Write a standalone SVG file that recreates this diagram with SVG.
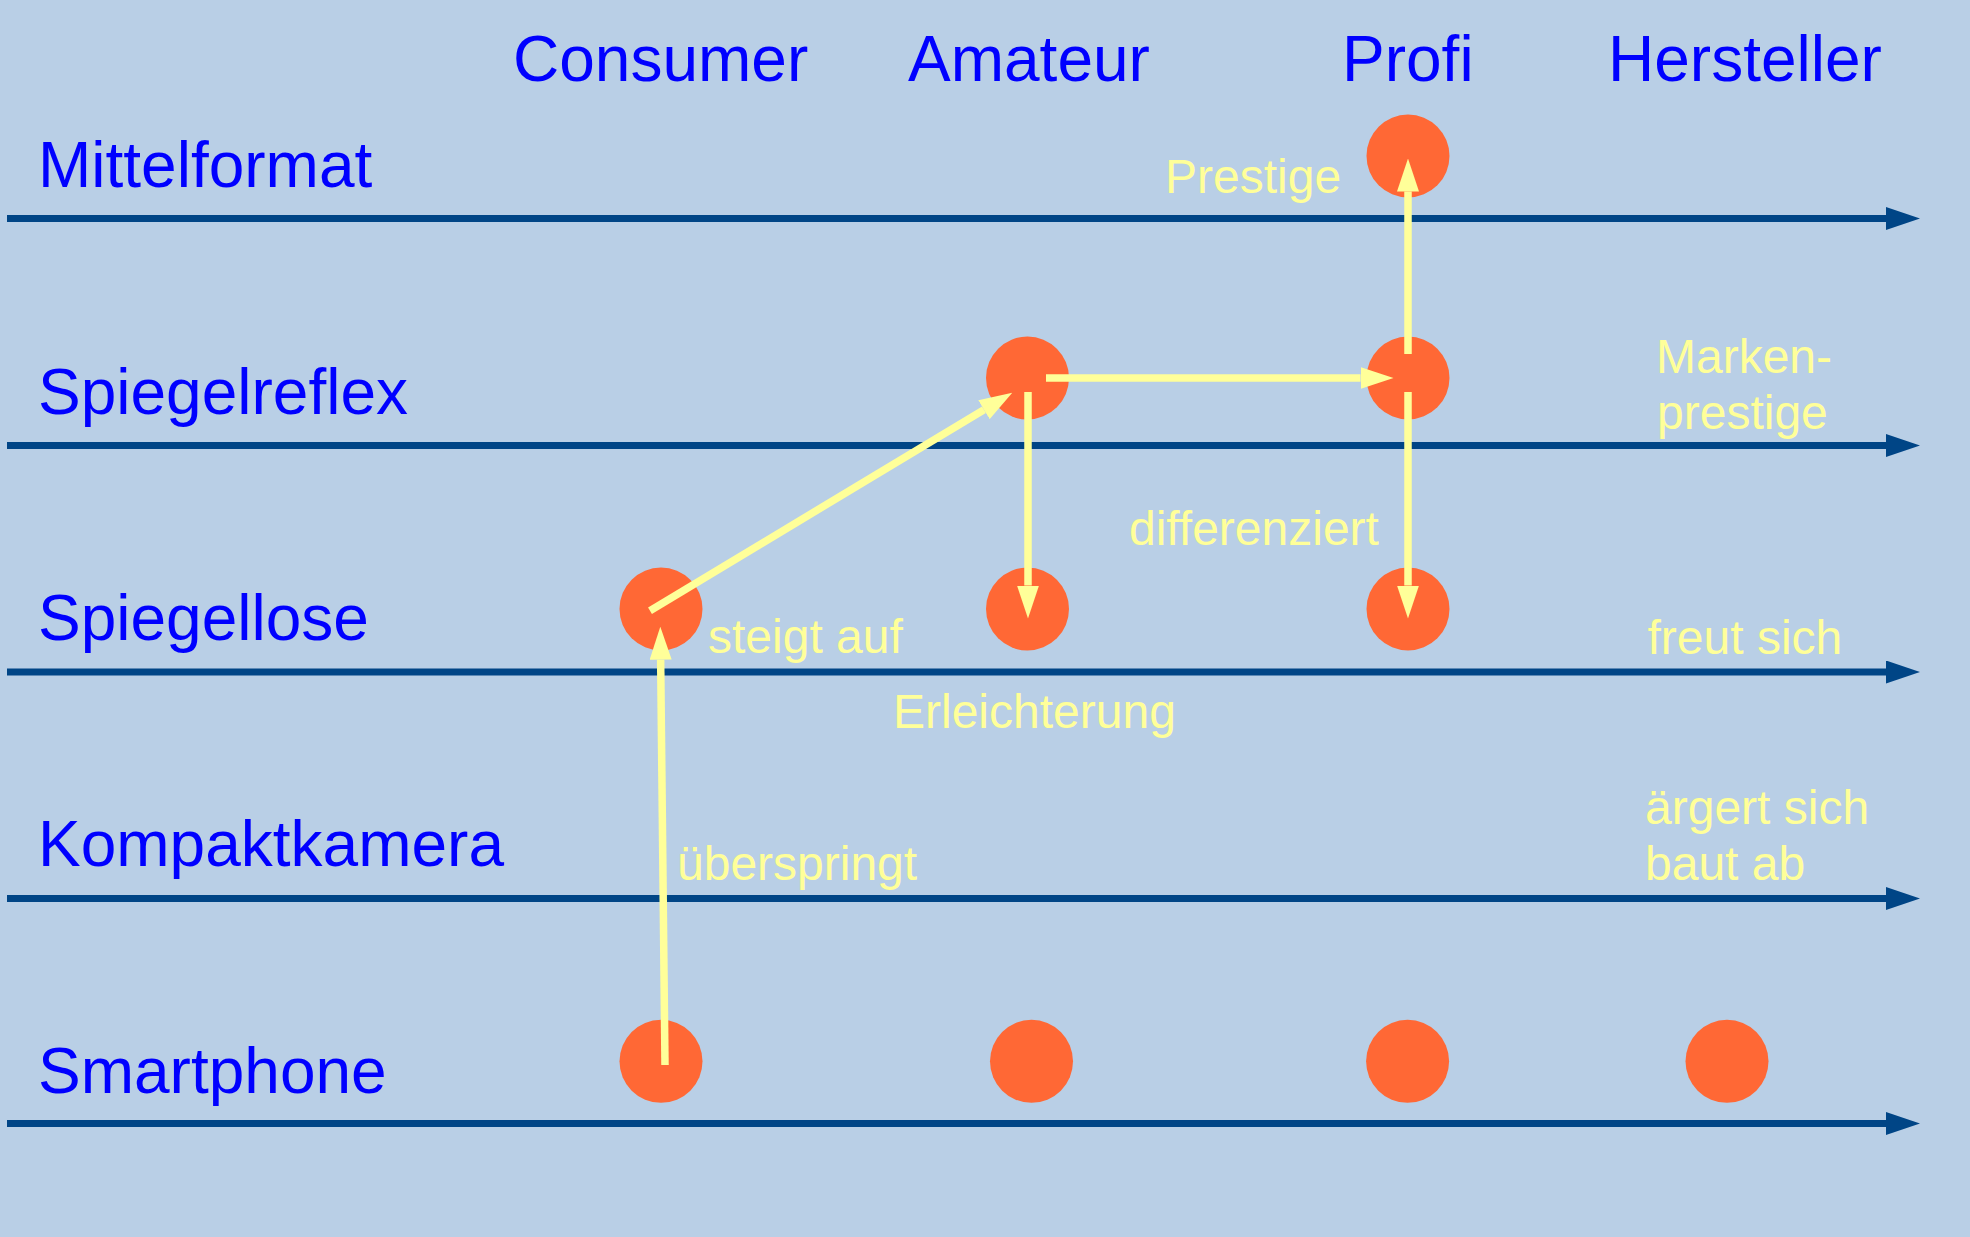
<svg xmlns="http://www.w3.org/2000/svg" width="1970" height="1237" viewBox="0 0 1970 1237">
  <style>
    .axis { stroke: #004586; stroke-width: 7; fill: none; }
    .flow { stroke: #FFFF99; stroke-width: 7.5; fill: none; }
    .dot { fill: #FF6835; }
    .cat { font-family: "Liberation Sans", Arial, sans-serif; font-size: 64px; fill: #0000FF; }
    .note { font-family: "Liberation Sans", Arial, sans-serif; font-size: 48px; fill: #FFFF99; }
  </style>
  <defs>
    <marker id="axisHead" markerUnits="userSpaceOnUse" markerWidth="34" markerHeight="23" viewBox="0 0 34 23" refX="0" refY="11.5" orient="auto">
      <path d="M0,0 L34,11.5 L0,23 Z" fill="#004586"/>
    </marker>
    <marker id="flowHead" markerUnits="userSpaceOnUse" markerWidth="33" markerHeight="22" viewBox="0 0 33 22" refX="0" refY="11" orient="auto">
      <path d="M0,0 L33,11 L0,22 Z" fill="#FFFF99"/>
    </marker>
  </defs>

  <!-- background -->
  <rect x="0" y="0" width="1970" height="1237" fill="#B9CFE6"/>

  <!-- column headings -->
  <g id="columns">
    <text class="cat" x="513" y="81">Consumer</text>
    <text class="cat" x="908" y="81">Amateur</text>
    <text class="cat" x="1342" y="81">Profi</text>
    <text class="cat" x="1608" y="81">Hersteller</text>
  </g>

  <!-- camera class rows: label plus axis -->
  <g id="row-mittelformat">
    <text class="cat" x="38" y="187">Mittelformat</text>
    <line class="axis" x1="7" y1="218.5" x2="1886" y2="218.5" marker-end="url(#axisHead)"/>
  </g>
  <g id="row-spiegelreflex">
    <text class="cat" x="38" y="414">Spiegelreflex</text>
    <line class="axis" x1="7" y1="445.5" x2="1886" y2="445.5" marker-end="url(#axisHead)"/>
  </g>
  <g id="row-spiegellose">
    <text class="cat" x="38" y="640">Spiegellose</text>
    <line class="axis" x1="7" y1="672" x2="1886" y2="672" marker-end="url(#axisHead)"/>
  </g>
  <g id="row-kompaktkamera">
    <text class="cat" x="38" y="866">Kompaktkamera</text>
    <line class="axis" x1="7" y1="898.5" x2="1886" y2="898.5" marker-end="url(#axisHead)"/>
  </g>
  <g id="row-smartphone">
    <text class="cat" x="38" y="1093">Smartphone</text>
    <line class="axis" x1="7" y1="1123.5" x2="1886" y2="1123.5" marker-end="url(#axisHead)"/>
  </g>

  <!-- positions -->
  <g id="node-mittelformat-profi"><circle class="dot" cx="1408" cy="156" r="41.5"/></g>
  <g id="node-spiegelreflex-amateur"><circle class="dot" cx="1027.5" cy="378" r="41.5"/></g>
  <g id="node-spiegelreflex-profi"><circle class="dot" cx="1408" cy="378" r="41.5"/></g>
  <g id="node-spiegellose-consumer"><circle class="dot" cx="661" cy="609" r="41.5"/></g>
  <g id="node-spiegellose-amateur"><circle class="dot" cx="1027.5" cy="609" r="41.5"/></g>
  <g id="node-spiegellose-profi"><circle class="dot" cx="1408" cy="609" r="41.5"/></g>
  <g id="node-smartphone-consumer"><circle class="dot" cx="661" cy="1061.3" r="41.5"/></g>
  <g id="node-smartphone-amateur"><circle class="dot" cx="1031.5" cy="1061.3" r="41.5"/></g>
  <g id="node-smartphone-profi"><circle class="dot" cx="1407.6" cy="1061.3" r="41.5"/></g>
  <g id="node-smartphone-hersteller"><circle class="dot" cx="1727" cy="1061.3" r="41.5"/></g>

  <!-- movements between positions -->
  <g id="connectors">
    <line class="flow" x1="1408" y1="354" x2="1408" y2="191.5" marker-end="url(#flowHead)"/>
    <line class="flow" x1="1046" y1="378" x2="1360.5" y2="378" marker-end="url(#flowHead)"/>
    <line class="flow" x1="1408" y1="392" x2="1408" y2="585.5" marker-end="url(#flowHead)"/>
    <line class="flow" x1="1028" y1="392" x2="1028" y2="585.5" marker-end="url(#flowHead)"/>
    <line class="flow" x1="650" y1="610.7" x2="984" y2="409.7" marker-end="url(#flowHead)"/>
    <line class="flow" x1="665" y1="1065" x2="660.65" y2="659.7" marker-end="url(#flowHead)"/>
  </g>

  <!-- annotations -->
  <g id="notes">
    <text class="note" x="1165" y="193">Prestige</text>
    <text class="note" x="1656" y="373">Marken-</text>
    <text class="note" x="1657" y="428.5">prestige</text>
    <text class="note" x="1129" y="545">differenziert</text>
    <text class="note" x="708" y="653">steigt auf</text>
    <text class="note" x="1647.5" y="654">freut sich</text>
    <text class="note" x="893" y="728">Erleichterung</text>
    <text class="note" x="1645" y="824">ärgert sich</text>
    <text class="note" x="1645" y="879.5">baut ab</text>
    <text class="note" x="677" y="880">überspringt</text>
  </g>
</svg>
